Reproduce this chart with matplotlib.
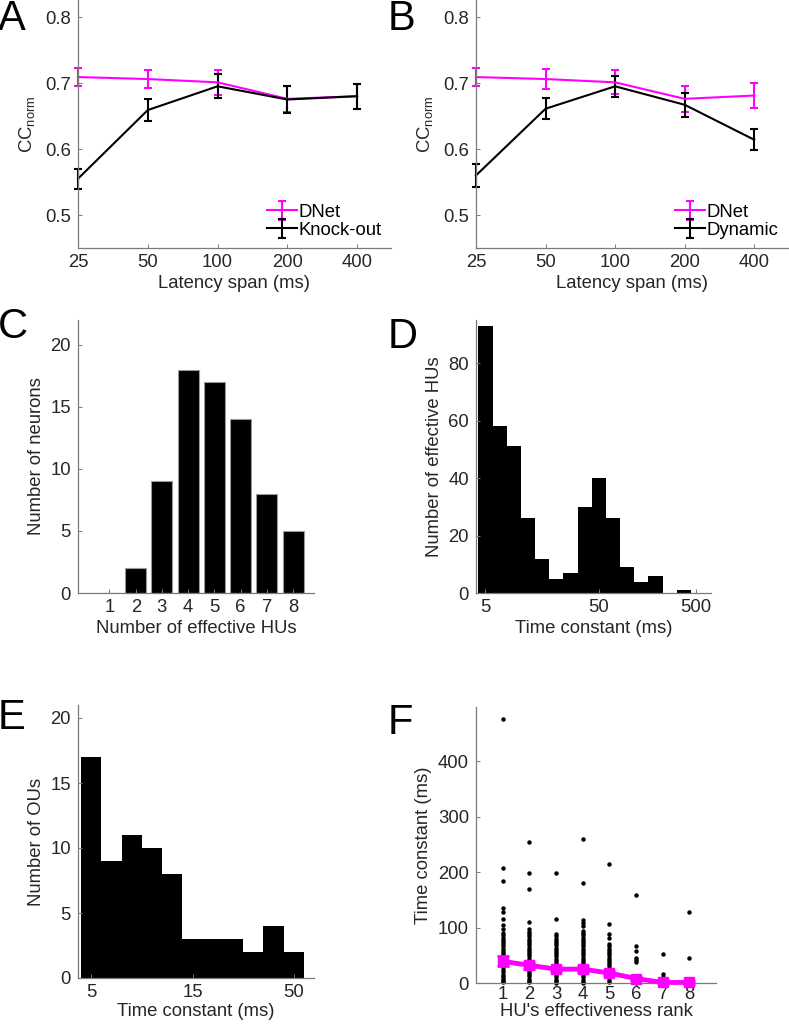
import numpy as np
import matplotlib
matplotlib.use("Agg")
import matplotlib.pyplot as plt

plt.rcParams['font.family'] = ['Liberation Sans', 'DejaVu Sans']
plt.rcParams['mathtext.default'] = 'regular'
plt.rcParams['font.size'] = 13.3

TXT = '#262626'
SPINE = '#7a7a7a'
MAG = '#ff00ff'
FS = 13.3

# panel A / B data
latency = [25, 50, 100, 200, 400]
dnet_mean = [0.709, 0.706, 0.701, 0.676, 0.680]
dnet_err = [0.014, 0.014, 0.019, 0.020, 0.019]
knock_mean = [0.555, 0.659, 0.695, 0.675, 0.680]
knock_err = [0.015, 0.016, 0.018, 0.020, 0.019]
dnet_mean_b = [0.709, 0.706, 0.701, 0.676, 0.681]
dnet_err_b = [0.014, 0.015, 0.018, 0.020, 0.019]
dyn_mean = [0.560, 0.661, 0.695, 0.667, 0.614]
dyn_err = [0.017, 0.016, 0.016, 0.018, 0.016]

# panel C
n_hu = [1, 2, 3, 4, 5, 6, 7, 8]
n_neurons = [0, 2, 9, 18, 17, 14, 8, 5]

# panel D (log-spaced bins of time constant)
d_counts = [93, 58, 51, 26, 12, 5, 7, 30, 40, 26, 9, 4, 6, 0, 1]
d_ticklabels = ['5', '50', '500']

# panel E
e_counts = [17, 9, 11, 10, 8, 3, 3, 3, 2, 4, 2]
e_ticklabels = ['5', '15', '50']

# panel F: time constants per effectiveness rank
rank_tau = {
    1: [477, 208, 184, 136, 128, 116, 105, 97, 90, 86, 82, 78, 74, 70, 66, 62, 58,
        55, 50, 45, 40, 36, 32, 28, 24, 20, 15, 12, 9, 6, 4, 2],
    2: [255, 198, 170, 110, 97, 92, 88, 84, 80, 76, 72, 68, 64, 60, 56, 52, 48, 44,
        40, 36, 32, 28, 24, 20, 16, 12, 8, 4, 1],
    3: [198, 116, 88, 84, 80, 76, 72, 68, 64, 60, 56, 52, 48, 44, 40, 36, 30, 26,
        22, 18, 14, 10, 6, 3, 0],
    4: [260, 180, 113, 108, 102, 94, 90, 86, 82, 78, 74, 70, 66, 62, 58, 54, 50, 46,
        42, 38, 34, 30, 26, 22, 18, 14, 10, 6, 2, 0],
    5: [214, 106, 89, 82, 70, 66, 62, 58, 54, 50, 46, 42, 38, 34, 30, 25, 20, 15,
        10, 5, 2],
    6: [159, 66, 58, 45, 42, 37, 2, 0],
    7: [53, 16, 10, 5, 1],
    8: [128, 45, 6, 1],
}
rank_mean = [39, 32, 25, 25, 18, 8, 1, 1]
rank_err = [9, 6, 4, 5, 4, 3, 1, 2]

W, H = 789, 1026
fig = plt.figure(figsize=(W / 100, H / 100), dpi=100)


def add_ax(l, r, t, b):
    return fig.add_axes([l / W, 1 - b / H, (r - l) / W, (b - t) / H])


def style(ax):
    for s in ['top', 'right']:
        ax.spines[s].set_visible(False)
    for s in ['left', 'bottom']:
        ax.spines[s].set_color(SPINE)
        ax.spines[s].set_linewidth(0.9)
    ax.tick_params(direction='in', length=3, width=0.7, color=SPINE,
                   labelcolor=TXT, labelsize=FS, pad=5)
    ax.tick_params(axis='x', pad=4)
    ax.xaxis.label.set_color(TXT)
    ax.yaxis.label.set_color(TXT)
    ax.xaxis.label.set_size(FS)
    ax.yaxis.label.set_size(FS)


def letter(x, y, s):
    fig.text(x / W, 1 - y / H, s, fontsize=30, ha='left', va='center')


def cc_panel(ax, m1, e1, m2, e2, lab2):
    ax.errorbar(latency, m1, yerr=e1, color=MAG, lw=1.5, elinewidth=1.5,
                capsize=2.8, capthick=1.5, label='DNet', clip_on=False)
    ax.errorbar(latency, m2, yerr=e2, color='black', lw=1.5, elinewidth=1.5,
                capsize=2.8, capthick=1.5, label=lab2, clip_on=False)
    ax.set_xscale('log', base=2)
    ax.set_xlim(25, 560)
    ax.set_ylim(0.45, 0.825)
    ax.set_xticks(latency, [str(v) for v in latency])
    ax.xaxis.set_minor_locator(matplotlib.ticker.NullLocator())
    ax.set_yticks([0.5, 0.6, 0.7, 0.8])
    ax.set_xlabel('Latency span (ms)', labelpad=3)
    ax.set_ylabel('CC$_{norm}$', labelpad=6)
    ax.legend(loc='lower right', frameon=False, fontsize=FS,
              handlelength=1.6, handletextpad=0.1, borderaxespad=0.1,
              labelspacing=0.05)
    style(ax)


axA = add_ax(78, 391, 0.5, 248)
cc_panel(axA, dnet_mean, dnet_err, knock_mean, knock_err, 'Knock-out')
axB = add_ax(476, 788, 0.5, 248)
cc_panel(axB, dnet_mean_b, dnet_err_b, dyn_mean, dyn_err, 'Dynamic')

# C
axC = add_ax(78, 314, 320, 593)
axC.bar(n_hu, n_neurons, width=0.8, color='black', edgecolor='#9a9a9a', lw=0.8)
axC.set_xlim(-0.2, 8.8)
axC.set_ylim(0, 22)
axC.set_xticks(n_hu)
axC.set_yticks([0, 5, 10, 15, 20])
axC.set_xlabel('Number of effective HUs', labelpad=3)
axC.set_ylabel('Number of neurons')
style(axC)

# D
axD = add_ax(476, 711, 320, 593)
axD.bar(np.arange(len(d_counts)), d_counts, width=1.0, color='black', lw=0)
axD.set_xlim(-0.67, 15.92)
axD.set_ylim(0, 95)
axD.set_xticks([0, 8, 14.86], d_ticklabels)
axD.set_yticks([0, 20, 40, 60, 80])
axD.set_xlabel('Time constant (ms)', labelpad=3)
axD.set_ylabel('Number of effective HUs')
style(axD)

# E
axE = add_ax(78, 314, 705, 978)
axE.bar(np.arange(len(e_counts)), e_counts, width=1.0, color='black', lw=0)
axE.set_xlim(-0.66, 11.0)
axE.set_ylim(0, 21)
axE.set_xticks([0, 5, 10], e_ticklabels)
axE.set_yticks([0, 5, 10, 15, 20])
axE.set_xlabel('Time constant (ms)', labelpad=2)
axE.set_ylabel('Number of OUs')
style(axE)

# F
axF = add_ax(476, 716, 707, 983)
for r, vals in rank_tau.items():
    axF.plot([r] * len(vals), vals, 'o', color='black', ms=3.2, mec='none',
             clip_on=False)
ranks = list(rank_tau.keys())
axF.errorbar(ranks, rank_mean, yerr=rank_err, color=MAG, lw=3.5, marker='s',
             ms=7, elinewidth=2, capsize=4, capthick=2, clip_on=False, zorder=3)
axF.set_xlim(0, 9)
axF.set_ylim(0, 498)
axF.set_xticks(ranks)
axF.set_yticks([0, 100, 200, 300, 400])
axF.set_ylabel('Time constant (ms)')
style(axF)
axF.tick_params(axis='x', pad=2)
axF.set_xlabel("HU's effectiveness rank", labelpad=0)

letter(-2, 19, 'A')
letter(388, 19, 'B')
letter(-2, 327, 'C')
letter(388, 337, 'D')
letter(-2, 718, 'E')
letter(388, 723, 'F')

fig.savefig('out.png', dpi=100)
